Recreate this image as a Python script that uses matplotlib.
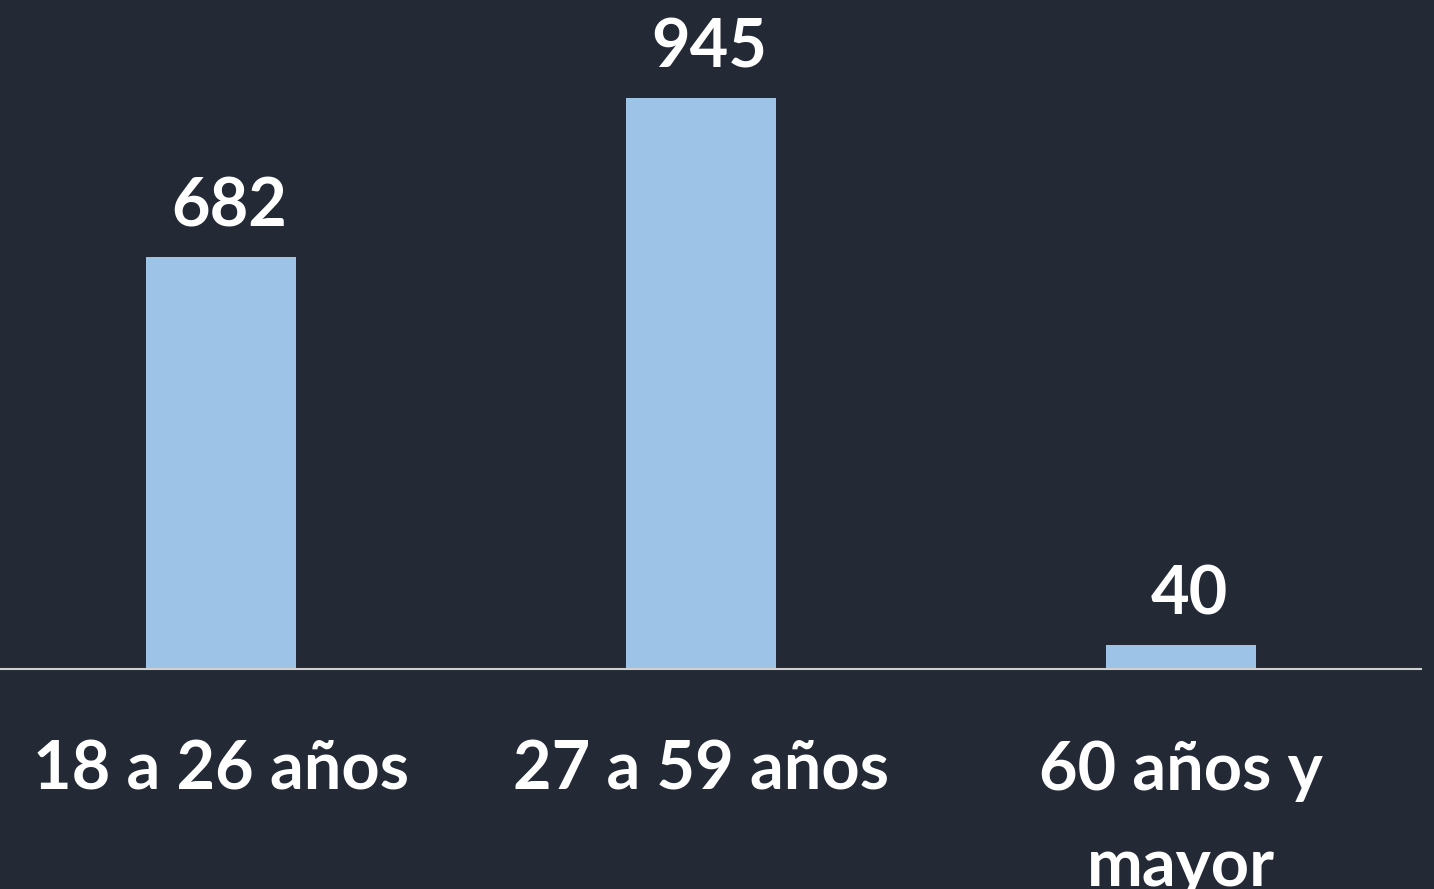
import matplotlib
matplotlib.use("Agg")
import matplotlib.pyplot as plt

categories = ["18 a 26 años", "27 a 59 años", "60 años y\nmayor"]
values = [682, 945, 40]

BG = "#232a36"
BAR = "#9dc3e6"

plt.rcParams['font.family'] = ['Lato', 'DejaVu Sans']

W, H = 1434, 889
fig = plt.figure(figsize=(W / 100, H / 100), dpi=100, facecolor=BG)
ax = fig.add_axes([-19 / W, (H - 669) / H, 1440 / W, 669 / H])
ax.set_facecolor(BG)

x = list(range(len(categories)))
bars = ax.bar(x, values, width=0.3125, color=BAR, zorder=2)
ax.set_xlim(-0.5, 2.5)
ax.set_ylim(0, 945 * 669 / 571)

for s in ["top", "left", "right"]:
    ax.spines[s].set_visible(False)
ax.spines["bottom"].set_color("#d0d0d0")
ax.spines["bottom"].set_linewidth(1.5)
ax.set_yticks([])
ax.set_xticks(x)
ax.set_xticklabels(categories, fontsize=48, fontweight="bold", color="white",
                   linespacing=1.68)
ax.tick_params(axis="x", length=0, pad=51)

for xi, v in zip(x, values):
    ax.annotate(f"{v}", xy=(xi, v), xytext=(6, 22), textcoords="offset points",
                ha="center", va="baseline", fontsize=48, fontweight="bold",
                color="white")

fig.savefig("out.png", dpi=100, facecolor=BG)
